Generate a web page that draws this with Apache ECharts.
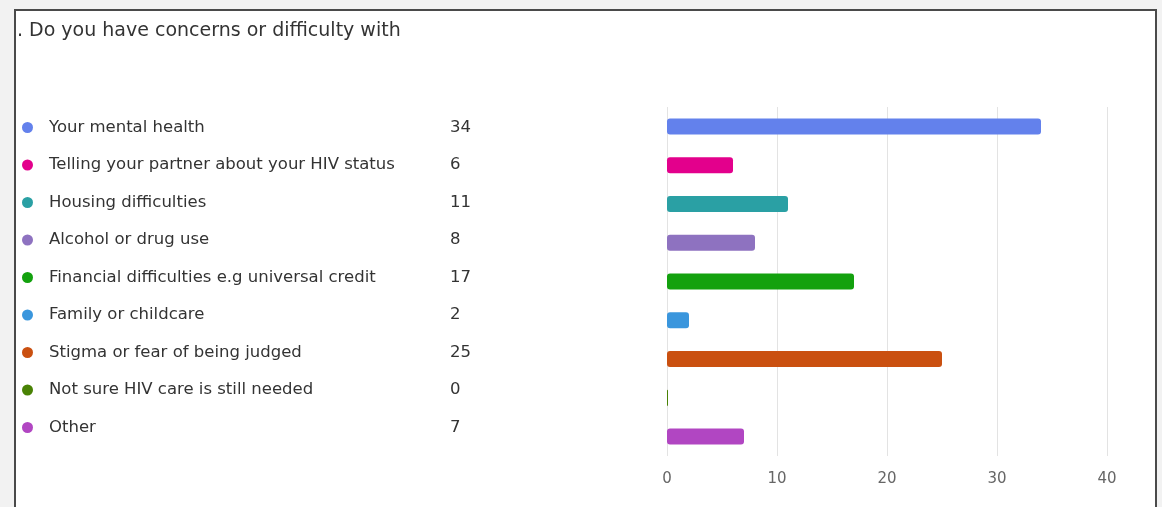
<!DOCTYPE html>
<html><head><meta charset="utf-8">
<script src="https://cdn.jsdelivr.net/npm/echarts@6/dist/echarts.min.js"></script>
<style>html,body{margin:0;padding:0;background:#f2f2f2;}#c{width:1162px;height:507px;}</style>
</head><body><div id="c"></div>
<script>
const titleText = ". Do you have concerns or difficulty with";
const categories = ["Your mental health","Telling your partner about your HIV status","Housing difficulties","Alcohol or drug use","Financial difficulties e.g universal credit","Family or childcare","Stigma or fear of being judged","Not sure HIV care is still needed","Other"];
const values = [34, 6, 11, 8, 17, 2, 25, 0, 7];
const colors = ["#6381ec","#e3008c","#2aa0a4","#8e72c0","#13a10e","#3a96dd","#ca5010","#498205","#b146c2"];
const xTicks = [0, 10, 20, 30, 40];

const FONT = "DejaVu Sans";
const chart = echarts.init(document.getElementById('c'), null, {renderer:'canvas'});
const series = categories.map((c, i) => ({
  name: c, type: 'bar', stack: 'all',
  data: categories.map((_, j) => j === i ? values[i] : null),
  barWidth: 16,
  barMinHeight: values[i] === 0 ? 1 : 0,
  itemStyle: { color: colors[i], borderRadius: 3 },
  silent: true
}));
chart.setOption({
  backgroundColor: '#f2f2f2',
  animation: false,
  graphic: [{
    type: 'rect', z: -10,
    shape: { x: 15, y: 10, width: 1141, height: 510 },
    style: { fill: '#ffffff', stroke: '#4a4a4a', lineWidth: 2 }
  }],
  title: {
    text: titleText, left: 12, top: 17,
    textStyle: { fontFamily: FONT, fontSize: 19, fontWeight: 'normal', color: '#333' }
  },
  legend: {
    orient: 'vertical', left: 17, top: 114,
    icon: 'circle', itemWidth: 11, itemHeight: 11, itemGap: 20.5,
    selectedMode: false,
    data: categories,
    formatter: function (name) {
      const i = categories.indexOf(name);
      return '{n|' + name + '}{v|' + values[i] + '}';
    },
    textStyle: {
      fontFamily: FONT, fontSize: 16.5, color: '#333',
      rich: {
        n: { fontFamily: FONT, fontSize: 16.5, color: '#333', width: 401, padding: [0,0,0,11] },
        v: { fontFamily: FONT, fontSize: 16.5, color: '#333' }
      }
    }
  },
  grid: { left: 667, top: 107, width: 440, height: 349, containLabel: false },
  xAxis: {
    type: 'value', min: 0, max: 40, interval: 10,
    axisLine: { show: false }, axisTick: { show: false },
    splitLine: { show: true, lineStyle: { color: '#e3e3e3', width: 1 } },
    axisLabel: { fontFamily: FONT, fontSize: 15, color: '#666', margin: 16,
      formatter: v => xTicks.includes(v) ? String(v) : '' }
  },
  yAxis: {
    type: 'category', inverse: true, data: categories,
    axisLine: { show: false }, axisTick: { show: false }, axisLabel: { show: false }
  },
  series: series
});
</script></body></html>
